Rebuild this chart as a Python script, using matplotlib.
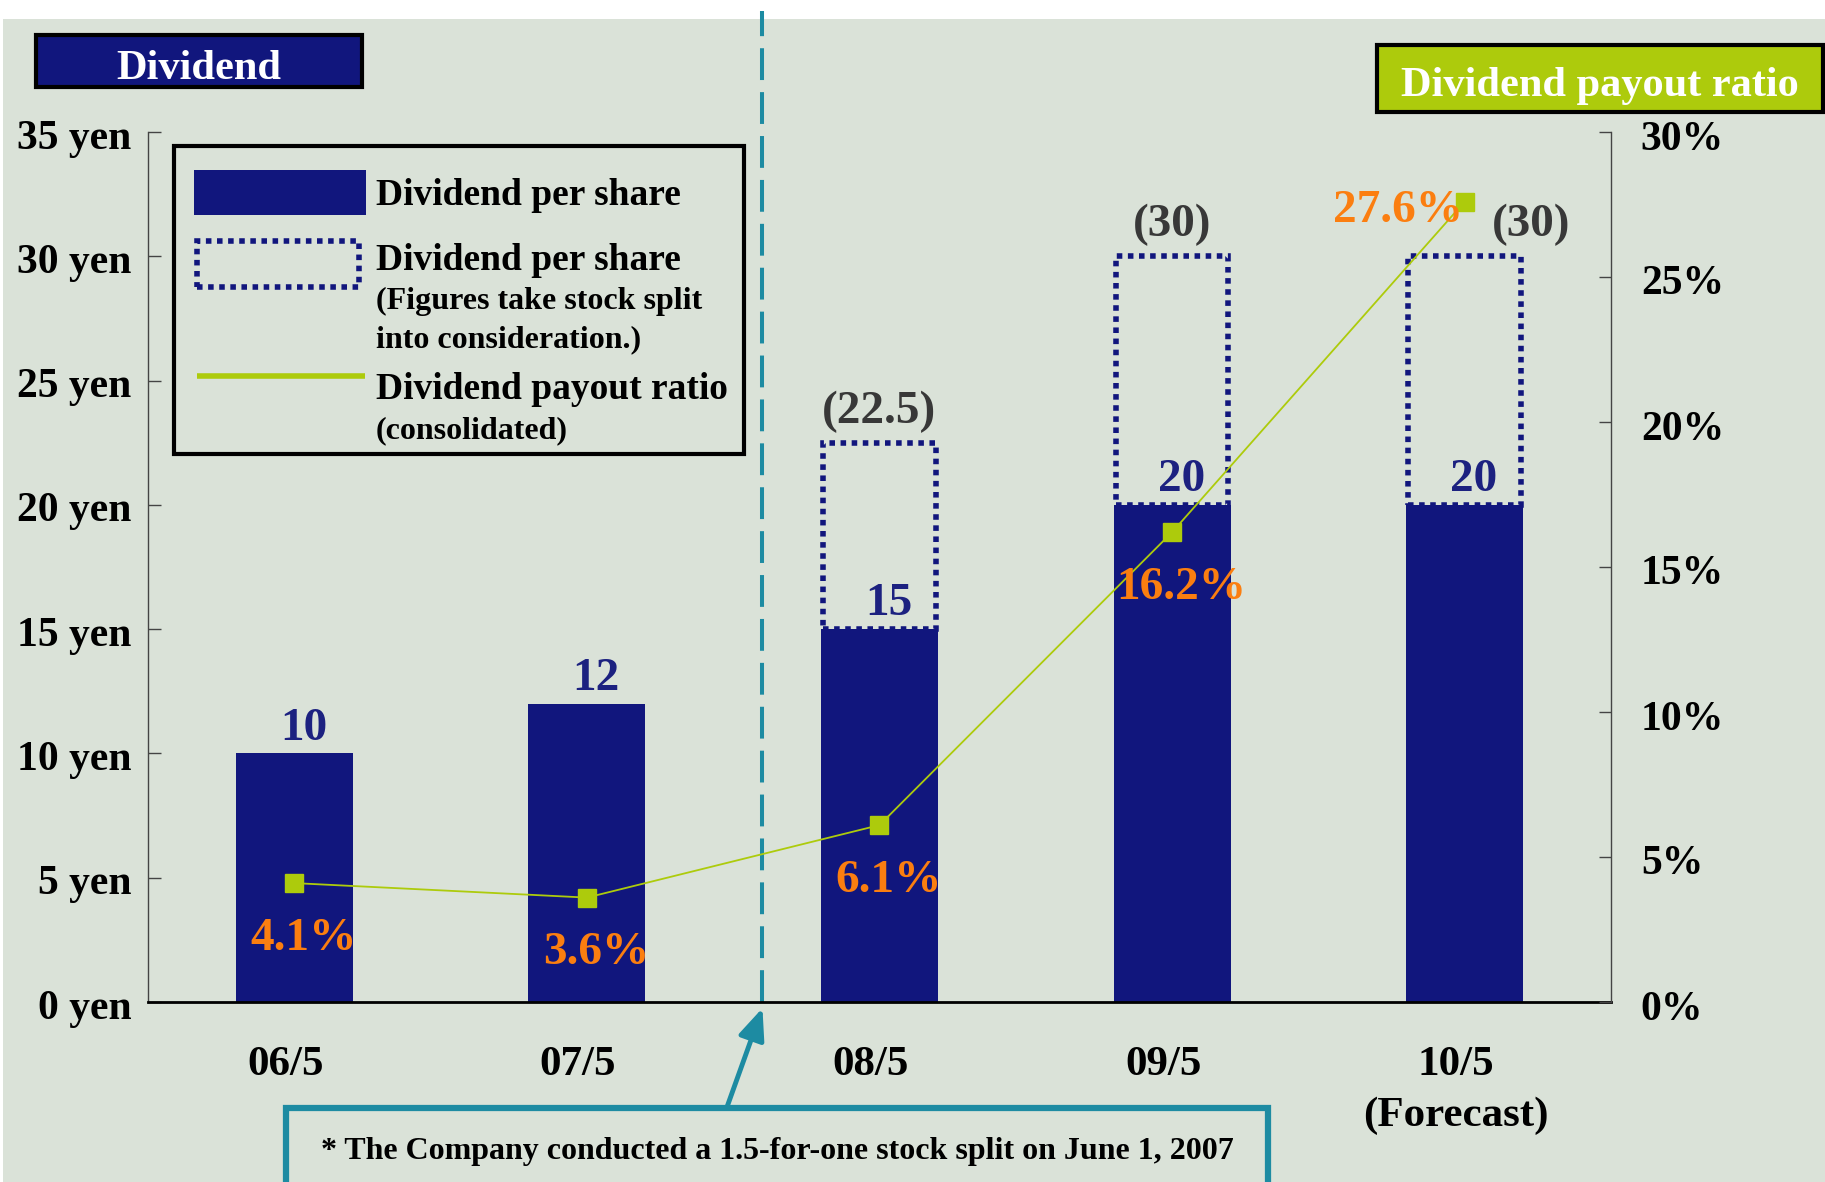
import numpy as np
import matplotlib
matplotlib.use("Agg")
import matplotlib.pyplot as plt
import matplotlib.patches as mpatches
import matplotlib.lines as mlines
import matplotlib.transforms as mtransforms

plt.rcParams['font.family'] = ['Liberation Serif', 'DejaVu Serif']
plt.rcParams['font.weight'] = 'bold'

# ---------------- data ----------------
years = ['06/5', '07/5', '08/5', '09/5', '10/5\n(Forecast)']
dps = [10, 12, 15, 20, 20]                       # dividend per share (yen)
dps_split_adj = [np.nan, np.nan, 22.5, 30, 30]   # figures taking stock split into account
payout = [4.1, 3.6, 6.1, 16.2, 27.6]             # dividend payout ratio (%)
dps_labels = ['10', '12', '15', '20', '20']
adj_labels = ['', '', '(22.5)', '(30)', '(30)']
payout_labels = ['4.1%', '3.6%', '6.1%', '16.2%', '27.6%']
yen_ticks = [0, 5, 10, 15, 20, 25, 30, 35]
pct_ticks = [0, 5, 10, 15, 20, 25, 30]
split_x = 1.6   # position of stock-split divider between 07/5 and 08/5

# ---------------- styles ----------------
NAVY = '#11167D'
NAVY_TXT = '#1C2180'
GREEN = '#ADCB0C'
ORANGE = '#FB7E10'
TEAL = '#1D8BA2'
BG = '#DAE2D8'
GREY_TXT = '#383838'

W, H = 1825, 1182
fig = plt.figure(figsize=(W / 100, H / 100), dpi=100)
fig.patch.set_facecolor('white')

def fx(px):
    return px / W

def fy(py):
    return 1 - py / H

# background panel
fig.add_artist(mpatches.Rectangle((fx(3), 0), 1 - fx(3), fy(19), transform=fig.transFigure,
                                  facecolor=BG, edgecolor='none', zorder=0))

ax = fig.add_axes([fx(148), fy(1002), fx(1611) - fx(148), (1002 - 132) / H])
ax.patch.set_visible(False)
ax2 = ax.twinx()
ax2.patch.set_visible(False)

x = np.arange(len(years))

# bars
ax.bar(x, dps, width=0.4, color=NAVY, zorder=2)
adj = np.array(dps_split_adj, dtype=float)
base = np.array(dps, dtype=float)
mask = ~np.isnan(adj)
ax.bar(x[mask], (adj - base)[mask], bottom=base[mask], width=0.385, fill=False,
       edgecolor=NAVY, linewidth=4, linestyle=(0, (1, 1)), zorder=3)

ax.set_xlim(-0.5, 4.5)
ax.set_ylim(0, 35)
ax.set_yticks(yen_ticks)
ax.set_yticklabels([f'{v} yen' for v in yen_ticks])
ax.set_xticks(x)
ax.set_xticklabels(years, linespacing=1.45)
ax.tick_params(axis='y', direction='in', length=9, width=1, labelsize=30, pad=12, color='#444444')
ax.tick_params(axis='x', length=0, labelsize=31, pad=31.5)
for lab in ax.get_xticklabels():
    lab.set_transform(lab.get_transform() + mtransforms.ScaledTranslation(-9 / 100, 0, fig.dpi_scale_trans))
for lab in ax.get_yticklabels():
    lab.set_transform(lab.get_transform() + mtransforms.ScaledTranslation(0, -2 / 100, fig.dpi_scale_trans))

for s in ['top', 'right']:
    ax.spines[s].set_visible(False)
ax.spines['left'].set_color('#444444')
ax.spines['left'].set_linewidth(1.0)
ax.spines['bottom'].set_color('black')
ax.spines['bottom'].set_linewidth(2.0)

# line on secondary axis
ax2.plot(x, payout, color=GREEN, lw=1.3, marker='s', ms=13, mec=GREEN, mfc=GREEN, zorder=5)
ax2.set_ylim(0, 30)
ax2.set_yticks(pct_ticks)
ax2.set_yticklabels([f'{v}%' for v in pct_ticks])
ax2.tick_params(axis='y', direction='in', length=9, width=1, labelsize=30, pad=21.5, color='#444444')
for lab in ax2.get_yticklabels():
    lab.set_transform(lab.get_transform() + mtransforms.ScaledTranslation(0, -3 / 100, fig.dpi_scale_trans))
for s in ['top', 'left', 'bottom']:
    ax2.spines[s].set_visible(False)
ax2.spines['right'].set_color('#444444')
ax2.spines['right'].set_linewidth(1.0)

# value labels
for i in range(len(x)):
    ax.annotate(dps_labels[i], (x[i], dps[i]), xytext=(6.5, 10), textcoords='offset points',
                ha='center', va='baseline', fontsize=34, color=NAVY_TXT, zorder=6)
    if adj_labels[i]:
        dx = 48 if i == 4 else 0
        ax.annotate(adj_labels[i], (x[i], dps_split_adj[i]), xytext=(dx, 14.5), textcoords='offset points',
                    ha='center', va='baseline', fontsize=34, color=GREY_TXT, zorder=6)
    if i == 4:
        off = (-48, -15)
    else:
        off = (6.5, -48)
    ax2.annotate(payout_labels[i], (x[i], payout[i]), xytext=off, textcoords='offset points',
                 ha='center', va='baseline', fontsize=34, color=ORANGE, zorder=6)

# dashed divider
ax.axvline(split_x, ymin=0, ymax=1 + (132 - 11) / 870, clip_on=False, color=TEAL, lw=2.9,
           linestyle=(0, (7.9, 3.0)), zorder=1)

# note box and arrow
fig.add_artist(mpatches.Rectangle((fx(286), -0.05), fx(1268) - fx(286), fy(1107.5) + 0.05,
                                  transform=fig.transFigure, facecolor='none', edgecolor=TEAL,
                                  linewidth=4.5, zorder=3))
fig.text(fx(777), fy(1159), '* The Company conducted a 1.5-for-one stock split on June 1, 2007',
         ha='center', va='baseline', fontsize=23, color='black')
ax.annotate('', xy=(split_x, -0.007), xycoords=ax.get_xaxis_transform(),
            xytext=(fx(727), fy(1107)), textcoords='figure fraction',
            arrowprops=dict(arrowstyle='-|>,head_length=0.95,head_width=0.4', mutation_scale=20,
                            lw=3.5, color=TEAL, shrinkA=0, shrinkB=0), annotation_clip=False)

# title boxes
fig.add_artist(mpatches.Rectangle((fx(36), fy(87)), fx(362) - fx(36), (87 - 35) / H,
                                  transform=fig.transFigure, facecolor=NAVY, edgecolor='black',
                                  linewidth=3, zorder=3))
fig.text(fx(199), fy(79), 'Dividend', ha='center', va='baseline', fontsize=30.5, color='white', zorder=4)
fig.add_artist(mpatches.Rectangle((fx(1377), fy(112)), fx(1823) - fx(1377), (112 - 45) / H,
                                  transform=fig.transFigure, facecolor=GREEN, edgecolor='black',
                                  linewidth=3, zorder=3))
fig.text(fx(1600), fy(96), 'Dividend payout ratio', ha='center', va='baseline', fontsize=30.5,
         color='white', zorder=4)

# custom legend
fig.add_artist(mpatches.Rectangle((fx(174), fy(454)), fx(744) - fx(174), (454 - 146) / H,
                                  transform=fig.transFigure, facecolor='none', edgecolor='black',
                                  linewidth=3, zorder=3))
fig.add_artist(mpatches.Rectangle((fx(194), fy(215)), fx(366) - fx(194), (215 - 170) / H,
                                  transform=fig.transFigure, facecolor=NAVY, edgecolor='none', zorder=3))
fig.add_artist(mpatches.Rectangle((fx(197), fy(287)), fx(359) - fx(197), (287 - 241) / H,
                                  transform=fig.transFigure, facecolor='none', edgecolor=NAVY,
                                  linewidth=4, linestyle=(0, (1, 1)), zorder=3))
fig.add_artist(mlines.Line2D([fx(197), fx(365)], [fy(376), fy(376)], transform=fig.transFigure,
                             color=GREEN, linewidth=4, solid_capstyle='butt', zorder=3))
tx = fx(376)
fig.text(tx, fy(205), 'Dividend per share', fontsize=27, va='baseline', ha='left')
fig.text(tx, fy(270), 'Dividend per share', fontsize=27, va='baseline', ha='left')
fig.text(tx, fy(309), '(Figures take stock split', fontsize=23, va='baseline', ha='left')
fig.text(tx, fy(347), 'into consideration.)', fontsize=23, va='baseline', ha='left')
fig.text(tx, fy(399), 'Dividend payout ratio', fontsize=27, va='baseline', ha='left')
fig.text(tx, fy(438), '(consolidated)', fontsize=23, va='baseline', ha='left')

fig.savefig('out.png', dpi=100)
